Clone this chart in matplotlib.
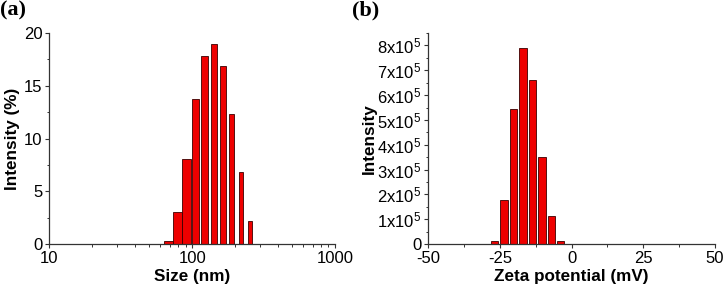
import numpy as np
import matplotlib
matplotlib.use('Agg')
import matplotlib.pyplot as plt
from matplotlib.ticker import FixedLocator, FuncFormatter, MultipleLocator

# DLS size distribution (intensity %)
sizes = [68.06, 78.82, 91.28, 105.7, 122.4, 141.8, 164.2, 190.1, 220.2, 255.0]
intensity_pct = [0.25, 3.05, 8.1, 13.7, 17.8, 19.0, 16.9, 12.3, 6.8, 2.2]

# zeta potential distribution
zeta = [-26.9, -23.6, -20.3, -17.0, -13.7, -10.4, -7.1, -3.8]
zeta_intensity = [0.12e5, 1.78e5, 5.45e5, 7.89e5, 6.59e5, 3.49e5, 1.13e5, 0.12e5]

plt.rcParams['font.family'] = ['Liberation Sans', 'DejaVu Sans']
plt.rcParams['axes.linewidth'] = 0.9
plt.rcParams['axes.edgecolor'] = '#333333'
plt.rcParams['axes.unicode_minus'] = False

face = '#ee0000'
edge = '#3a0000'


def style_axes(ax):
    ax.spines['top'].set_visible(False)
    ax.spines['right'].set_visible(False)
    ax.tick_params(which='major', direction='out', length=3, width=0.8,
                   labelsize=12, pad=2, color='#333333')
    ax.tick_params(which='minor', direction='out', length=1.8, width=0.7,
                   color='#333333')


fig = plt.figure(figsize=(7.25, 2.92), dpi=100)

# (a) size distribution on log axis
ax1 = fig.add_axes([0.068, 0.164, 0.394, 0.723])
x = np.array(sizes)
w = np.linspace(0.066, 0.026, len(sizes))  # bar width in decades
left = x * 10 ** (-w / 2)
right = x * 10 ** (w / 2)
ax1.bar(left, intensity_pct, width=right - left, align='edge',
        color=face, edgecolor=edge, linewidth=0.6)
ax1.set_xscale('log')
ax1.set_xlim(10, 1000)
ax1.set_ylim(0, 20)
ax1.set_xticks([10, 100, 1000])
ax1.set_xticklabels(['10', '100', '1000'])
ax1.xaxis.set_minor_locator(FixedLocator([k * 10 ** d for d in (1, 2) for k in range(2, 10)]))
ax1.xaxis.set_minor_formatter(FuncFormatter(lambda v, p: ''))
ax1.yaxis.set_major_locator(MultipleLocator(5))
ax1.yaxis.set_minor_locator(MultipleLocator(2.5))
style_axes(ax1)
ax1.set_xlabel('Size (nm)', fontsize=12.3, fontweight='bold', labelpad=2)
ax1.set_ylabel('Intensity (%)', fontsize=12.3, fontweight='bold', labelpad=3)

# (b) zeta potential
ax2 = fig.add_axes([0.591, 0.164, 0.395, 0.723])
ax2.bar(zeta, zeta_intensity, width=2.55, color=face, edgecolor=edge, linewidth=0.6)
ax2.set_xlim(-50, 50)
ax2.set_ylim(0, 8.5e5)
ax2.xaxis.set_major_locator(MultipleLocator(25))
ax2.xaxis.set_minor_locator(MultipleLocator(12.5))
ax2.yaxis.set_major_locator(MultipleLocator(1e5))
ax2.yaxis.set_minor_locator(MultipleLocator(0.5e5))


def sci_fmt(v, pos):
    n = int(round(v / 1e5))
    if n == 0:
        return '0'
    return r'$\mathregular{%dx10^5}$' % n


ax2.yaxis.set_major_formatter(FuncFormatter(sci_fmt))
style_axes(ax2)
ax2.set_xlabel('Zeta potential (mV)', fontsize=12.3, fontweight='bold', labelpad=2)
ax2.set_ylabel('Intensity', fontsize=12.3, fontweight='bold', labelpad=0)

# panel letters
fig.text(0.0, 1.0, '(a)', fontsize=16, fontweight='bold', va='top', ha='left',
         family=['Liberation Serif', 'DejaVu Serif'])
fig.text(0.485, 1.0, '(b)', fontsize=16, fontweight='bold', va='top', ha='left',
         family=['Liberation Serif', 'DejaVu Serif'])

fig.savefig('out.png', dpi=100)
